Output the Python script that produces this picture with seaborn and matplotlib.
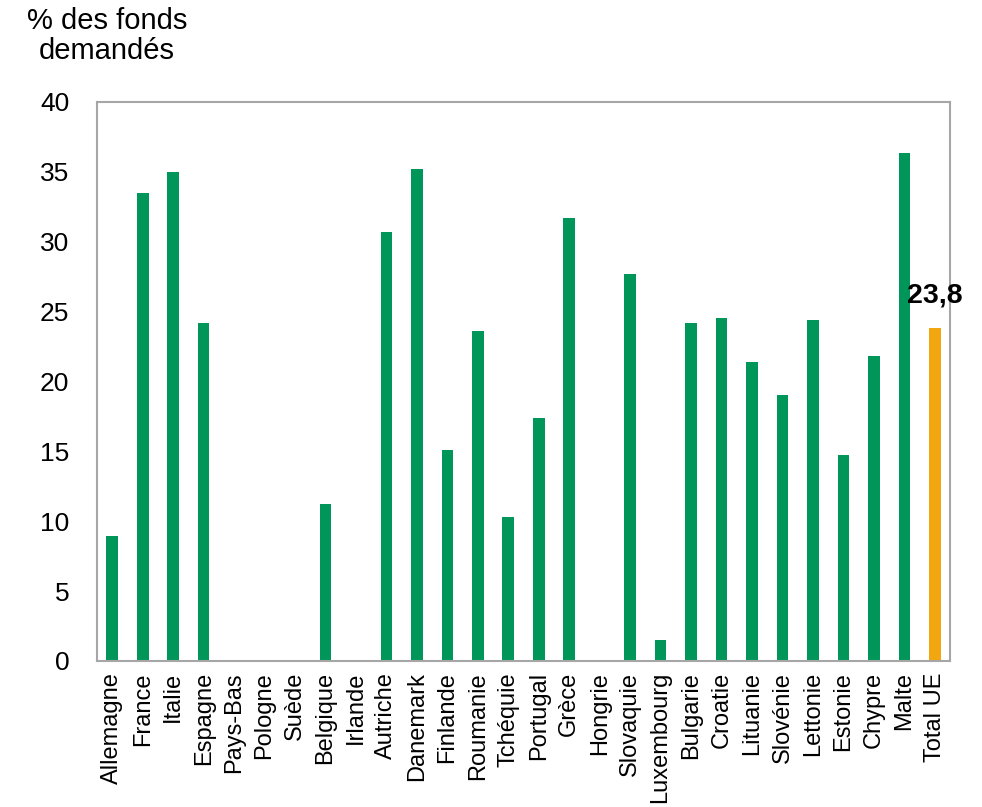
import pandas as pd
import matplotlib
matplotlib.use('Agg')
import matplotlib.pyplot as plt
import seaborn as sns

pays = ['Allemagne', 'France', 'Italie', 'Espagne', 'Pays-Bas', 'Pologne',
        'Suède', 'Belgique', 'Irlande', 'Autriche', 'Danemark', 'Finlande',
        'Roumanie', 'Tchéquie', 'Portugal', 'Grèce', 'Hongrie', 'Slovaquie',
        'Luxembourg', 'Bulgarie', 'Croatie', 'Lituanie', 'Slovénie', 'Lettonie',
        'Estonie', 'Chypre', 'Malte', 'Total UE']
pct_fonds = [8.9, 33.5, 35.0, 24.2, 0, 0,
             0, 11.2, 0, 30.7, 35.2, 15.1,
             23.6, 10.3, 17.4, 31.7, 0, 27.7,
             1.5, 24.2, 24.5, 21.4, 19.0, 24.4,
             14.7, 21.8, 36.3, 23.8]
groupe = ['pays'] * 27 + ['total']

couleurs = {'pays': '#00965A', 'total': '#F2A60F'}

sns.set_theme(style='white')
plt.rcParams['font.family'] = ['Liberation Sans', 'DejaVu Sans']

df = pd.DataFrame({'pays': pays, 'pct': pct_fonds, 'groupe': groupe})

fig = plt.figure(figsize=(9.82, 8.07), dpi=100)
ax = fig.add_axes([0.0988, 0.181, 0.8686, 0.693])

sns.barplot(data=df, x='pays', y='pct', hue='groupe', palette=couleurs,
            dodge=False, width=0.38, legend=False, saturation=1, ax=ax,
            linewidth=0)

# label on the EU total bar only
total_bars = ax.containers[-1]
ax.bar_label(total_bars, labels=[f'{pct_fonds[-1]:.1f}'.replace('.', ',')],
             padding=14, fontsize=20.5, fontweight='bold', color='black')

ax.set_ylim(0, 40)
ax.set_yticks(range(0, 41, 5))
ax.set_xlim(-0.5, len(pays) - 0.5)
ax.set_xlabel('')
ax.set_ylabel('')
ax.tick_params(axis='y', length=0, pad=20, labelsize=19, labelcolor='black')
ax.tick_params(axis='x', length=0, pad=8, labelsize=17, labelcolor='black')
plt.setp(ax.get_xticklabels(), rotation=90)

for sp in ax.spines.values():
    sp.set_visible(True)
    sp.set_color('#A6A6A6')
    sp.set_linewidth(1.5)

fig.text(107 / 982, 1 - 7 / 807, '% des fonds\ndemandés', ha='center', va='top',
         multialignment='center', fontsize=21, color='black', linespacing=1.1)

fig.savefig('out.png', dpi=100, facecolor='white')
